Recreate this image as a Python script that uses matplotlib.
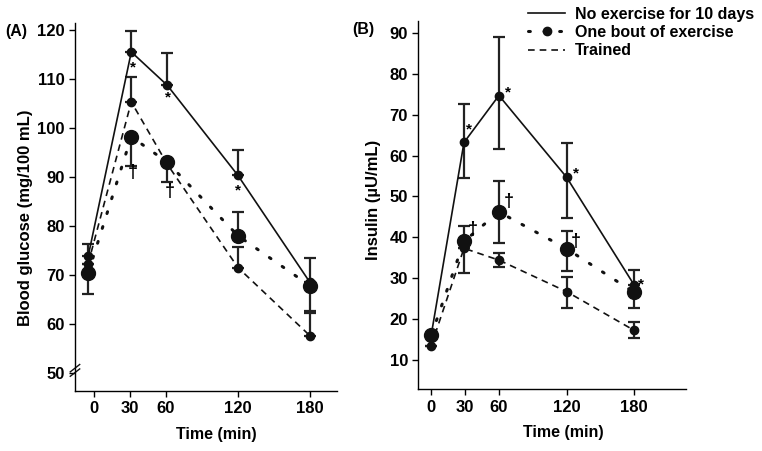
import numpy as np
import matplotlib.pyplot as plt

plt.rcParams['font.family'] = ['Liberation Sans', 'DejaVu Sans']
plt.rcParams['font.weight'] = 'bold'

# ---- Panel A: blood glucose (mg/100 mL) ----
time_a = [-5, 31, 61, 120, 180]
gluc_none = [73.8, 115.5, 108.7, 90.3, 68.5]
gluc_none_up = [76.3, 119.8, 115.3, 95.4, 73.5]
gluc_bout = [70.4, 98.2, 93.0, 78.0, 67.8]
gluc_bout_lo = [66.2, 92.2, 89.0, 78.0, 62.7]
gluc_bout_up = [70.4, 98.2, 93.0, 82.9, 67.8]
gluc_trained = [72.3, 105.3, 92.6, 71.5, 57.6]
gluc_trained_up = [72.3, 110.3, 92.6, 75.6, 62.3]

# ---- Panel B: insulin (uU/mL) ----
time_b = [0, 29, 60, 120, 180]
ins_none = [16.2, 63.2, 74.7, 54.7, 28.3]
ins_none_lo = [16.2, 54.5, 61.5, 44.7, 28.3]
ins_none_up = [16.2, 72.5, 89.0, 63.0, 32.0]
ins_bout = [16.0, 39.0, 46.2, 37.2, 26.5]
ins_bout_lo = [16.0, 31.2, 38.5, 31.8, 22.8]
ins_bout_up = [16.0, 42.7, 53.7, 41.5, 26.5]
ins_trained = [13.5, 37.3, 34.4, 26.7, 17.2]
ins_trained_lo = [13.5, 37.3, 32.8, 22.7, 15.4]
ins_trained_up = [13.5, 37.3, 36.2, 30.3, 19.2]

x_ticks = [0, 30, 60, 120, 180]

LW = 1.2
DOTS = (0, (0.6, 4.5))
ERR = dict(ecolor='#222222', elinewidth=1.6, capsize=4, capthick=1.6, zorder=2)


def err(y, lo, up):
    y = np.array(y)
    return [y - np.array(lo), np.array(up) - y]


def style_axes(ax):
    for s in ['top', 'right']:
        ax.spines[s].set_visible(False)
    for s in ['left', 'bottom']:
        ax.spines[s].set_linewidth(1.0)
    ax.tick_params(direction='out', length=4, width=1, labelsize=12)
    for lab in ax.get_xticklabels() + ax.get_yticklabels():
        lab.set_fontweight('bold')


fig = plt.figure(figsize=(7.62, 4.51), dpi=100)

# Panel A
ax1 = fig.add_axes([0.0984, 0.133, 0.3436, 0.817])
ax1.plot(time_a, gluc_none, '-', color='#111111', lw=LW, marker='o', ms=6, zorder=3)
ax1.errorbar(time_a, gluc_none, yerr=err(gluc_none, gluc_none, gluc_none_up), fmt='none', **ERR)
ax1.plot(time_a, gluc_trained, color='#111111', lw=LW, ls=(0, (4, 3)), zorder=3)
ax1.plot([time_a[i] for i in (0, 1, 3, 4)], [gluc_trained[i] for i in (0, 1, 3, 4)],
         'o', color='#111111', ms=6, zorder=3)
ax1.errorbar(time_a, gluc_trained, yerr=err(gluc_trained, gluc_trained, gluc_trained_up), fmt='none', **ERR)
ax1.plot(time_a, gluc_bout, color='#111111', lw=2.2, ls=DOTS, dash_capstyle='round', zorder=3)
ax1.plot(time_a, gluc_bout, 'o', color='#111111', ms=10, zorder=4)
ax1.errorbar(time_a, gluc_bout, yerr=err(gluc_bout, gluc_bout_lo, gluc_bout_up), fmt='none', **ERR)

ax1.set_xlim(-16, 202.5)
ax1.set_ylim(46.3, 121.5)
ax1.set_xticks(x_ticks)
ax1.set_yticks([50, 60, 70, 80, 90, 100, 110, 120])
ax1.set_xlabel('Time (min)', fontsize=11.5, fontweight='bold')
ax1.set_ylabel('Blood glucose (mg/100 mL)', fontsize=12, fontweight='bold')
ax1.xaxis.set_label_coords(0.538, -0.097)
ax1.yaxis.set_label_coords(-0.162, 0.47)
style_axes(ax1)

# significance marks, panel A
for x, y in [(32, 112.3), (62, 106.2), (120, 87.2)]:
    ax1.text(x, y, '*', ha='center', va='center', fontsize=11, fontweight='bold')
for x, y in [(32, 90.8), (63, 87.0)]:
    ax1.text(x, y, '†', ha='center', va='center', fontsize=13, fontweight='bold')

# axis break marks
for dy in (0.0, 0.012):
    ax1.plot([-0.018, 0.018], [0.04 + dy, 0.06 + dy], transform=ax1.transAxes,
             color='#111111', lw=1, clip_on=False)

fig.text(0.007, 0.93, '(A)', fontsize=11.5, fontweight='bold', va='center')

# Panel B
ax2 = fig.add_axes([0.549, 0.137, 0.351, 0.817])
ln_none, = ax2.plot(time_b, ins_none, '-', color='#111111', lw=LW, marker='o', ms=6, zorder=3)
ax2.errorbar(time_b, ins_none, yerr=err(ins_none, ins_none_lo, ins_none_up), fmt='none', **ERR)
ln_tr, = ax2.plot(time_b, ins_trained, color='#111111', lw=LW, ls=(0, (4, 3)), marker='o', ms=6, zorder=3)
ax2.errorbar(time_b, ins_trained, yerr=err(ins_trained, ins_trained_lo, ins_trained_up), fmt='none', **ERR)
ax2.plot(time_b, ins_bout, color='#111111', lw=2.2, ls=DOTS, dash_capstyle='round', zorder=3)
ax2.plot(time_b, ins_bout, 'o', color='#111111', ms=10, zorder=4)
ax2.errorbar(time_b, ins_bout, yerr=err(ins_bout, ins_bout_lo, ins_bout_up), fmt='none', **ERR)

ax2.set_xlim(-11.5, 225.8)
ax2.set_ylim(2.8, 93)
ax2.set_xticks(x_ticks)
ax2.set_yticks([10, 20, 30, 40, 50, 60, 70, 80, 90])
ax2.set_xlabel('Time (min)', fontsize=11.5, fontweight='bold')
ax2.set_ylabel('Insulin (µU/mL)', fontsize=12, fontweight='bold')
ax2.xaxis.set_label_coords(0.542, -0.097)
ax2.yaxis.set_label_coords(-0.14, 0.515)
style_axes(ax2)

for x, y in [(33, 66.5), (68, 75.5), (128, 55.5), (186, 28.5)]:
    ax2.text(x, y, '*', ha='center', va='center', fontsize=11, fontweight='bold')
for x, y in [(37, 42.0), (69, 48.8), (128, 39.0)]:
    ax2.text(x, y, '†', ha='center', va='center', fontsize=13, fontweight='bold')

fig.text(0.462, 0.935, '(B)', fontsize=11.5, fontweight='bold', va='center')

# legend
ln_bout, = ax2.plot([], [], color='#111111', lw=2.2, ls=DOTS, dash_capstyle='round',
                    marker='o', ms=6)
leg = ax2.legend([ln_none, ln_bout, ln_tr],
                 ['No exercise for 10 days', 'One bout of exercise', 'Trained'],
                 loc='upper left', bbox_to_anchor=(0.387, 1.055), frameon=False,
                 fontsize=11.5, handlelength=2.3, handletextpad=0.6, labelspacing=0.2,
                 borderaxespad=0)
leg.legend_handles[0].set_marker('')
leg.legend_handles[2].set_marker('')
for t in leg.get_texts():
    t.set_fontweight('bold')

fig.savefig('out.png', dpi=100)
